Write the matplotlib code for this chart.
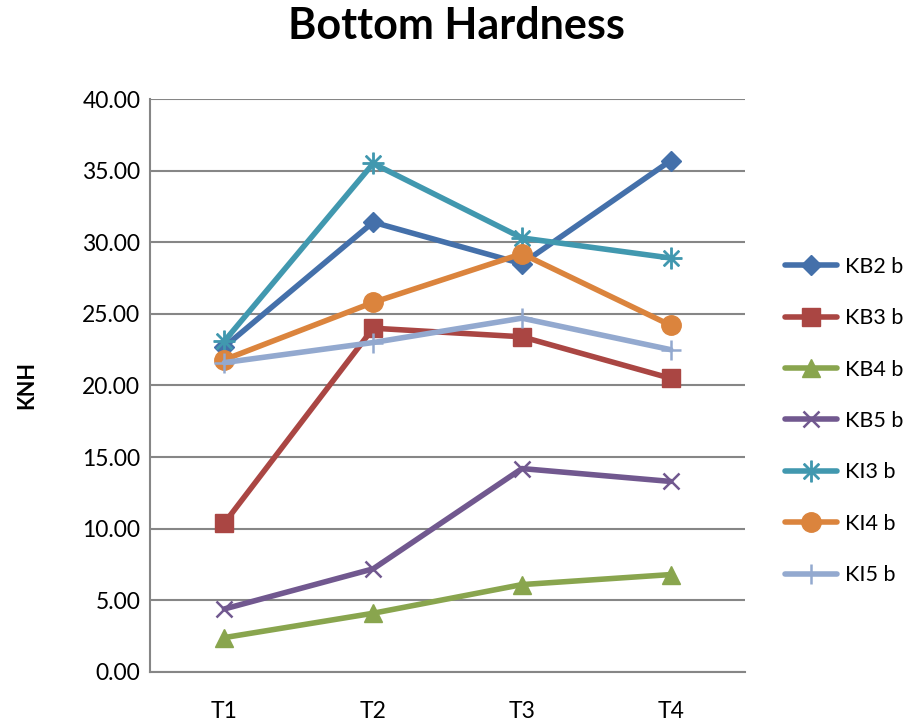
import matplotlib
matplotlib.use("Agg")
import matplotlib.pyplot as plt
import numpy as np

plt.rcParams['font.family'] = ['Lato', 'DejaVu Sans']

categories = ["T1", "T2", "T3", "T4"]
series_names = ["KB2 b", "KB3 b", "KB4 b", "KB5 b", "KI3 b", "KI4 b", "KI5 b"]
kb2 = [22.7, 31.4, 28.5, 35.7]
kb3 = [10.4, 24.0, 23.4, 20.5]
kb4 = [2.4, 4.1, 6.1, 6.8]
kb5 = [4.4, 7.2, 14.2, 13.3]
ki3 = [23.1, 35.5, 30.3, 28.9]
ki4 = [21.8, 25.8, 29.2, 24.2]
ki5 = [21.6, 23.0, 24.7, 22.5]
yticks = [0, 5, 10, 15, 20, 25, 30, 35, 40]

series = [kb2, kb3, kb4, kb5, ki3, ki4, ki5]
colors = ["#4470AA", "#AA4643", "#89A54E", "#71588F", "#4198AF", "#DB843D", "#93A9CF"]
markers = ["D", "s", "^", "x", "$\u2733$", "o", "+"]
msizes = [10, 13, 13, 12, 15, 14, 14]

fig = plt.figure(figsize=(9.12, 7.27), dpi=100)
ax = fig.add_axes([0.1645, 0.0757, 0.6525, 0.7881])

x = np.arange(len(categories))
for name, vals, c, m, ms in zip(series_names, series, colors, markers, msizes):
    kw = {}
    if m in ("x", "+"):
        kw["markeredgewidth"] = 1.8
    ax.plot(x, vals, color=c, lw=4, marker=m, markersize=ms,
            markerfacecolor=c, markeredgecolor=c, label=name,
            solid_capstyle="round", solid_joinstyle="round", **kw)

ax.set_xlim(-0.5, len(categories) - 0.5)
ax.set_ylim(0, 40)
ax.set_xticks(x)
ax.set_xticklabels(categories)
ax.set_yticks(yticks)
ax.set_yticklabels([f"{v:.2f}" for v in yticks])
ax.tick_params(axis="both", length=0, labelsize=16.5, colors="black")
ax.tick_params(axis="y", pad=7)
ax.tick_params(axis="x", pad=21)
ax.yaxis.grid(True, color="#868686", lw=1.5)
ax.set_axisbelow(True)
for s in ("top", "right"):
    ax.spines[s].set_visible(False)
for s in ("left", "bottom"):
    ax.spines[s].set_color("#868686")
    ax.spines[s].set_linewidth(1.5)

ax.set_ylabel("KNH", fontsize=15.5, fontweight="bold", labelpad=32)
fig.suptitle("Bottom Hardness", fontsize=31, fontweight="bold", x=0.5, y=0.992)

leg = ax.legend(loc="center left", bbox_to_anchor=(1.035, 0.438), frameon=False,
                fontsize=15.5, handlelength=2.4, labelspacing=1.46, handletextpad=0.37)

fig.savefig("out.png", dpi=100)
